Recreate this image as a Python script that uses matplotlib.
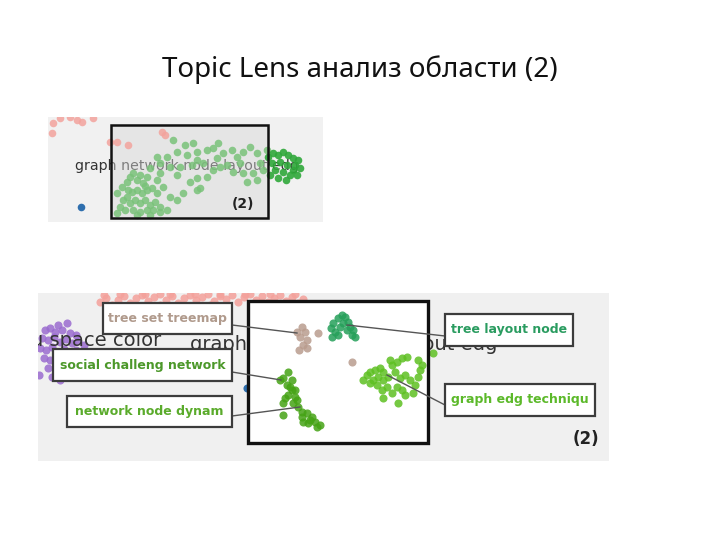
import matplotlib
matplotlib.use("Agg")
import matplotlib.pyplot as plt
from matplotlib.patches import Rectangle

# ---------------- data (pixel-space coordinates) ----------------
title = "Topic Lens анализ области (2)"
topic_phrase = "graph network node layout edg"
panel_tag = "(2)"

# top panel clusters
top_pink_x = [53, 52, 77, 82, 93, 60, 70, 110, 117, 128, 162, 165]
top_pink_y = [123, 133, 120, 122, 118, 118, 117, 142, 142, 145, 132, 135]
top_blue_x = [81]
top_blue_y = [207]
top_light_x = [117, 122, 127, 130, 133, 137, 140, 143, 147, 127, 132, 137, 142, 147, 152, 157,
               130, 135, 140, 145, 150, 155, 160, 133, 140, 147, 153, 160, 167, 120, 125, 157,
               163, 170, 177, 183, 197, 117, 137, 150, 123, 145, 128,
               173, 185, 193, 197, 187, 177, 167, 157, 160, 150, 170, 180, 192, 203, 207, 213,
               218, 223, 232, 237, 243, 250, 257, 260, 263, 253, 243, 233, 227, 220, 213, 207,
               197, 190, 200, 247, 257, 240, 217, 197, 267, 160, 177]
top_light_y = [193, 187, 182, 177, 173, 180, 175, 183, 177, 197, 192, 190, 193, 190, 188, 193,
               203, 200, 203, 200, 205, 202, 207, 210, 212, 210, 210, 212, 210, 207, 210, 180,
               187, 197, 200, 193, 190, 213, 215, 215, 200, 186, 190,
               140, 145, 143, 152, 155, 152, 157, 157, 163, 168, 167, 167, 165, 163, 150, 148,
               143, 153, 150, 157, 152, 147, 153, 163, 170, 173, 173, 172, 165, 167, 170, 177,
               178, 182, 188, 182, 180, 163, 158, 160, 150, 173, 175]
top_dark_x = [268, 273, 278, 283, 288, 293, 298, 272, 280, 287, 295, 300, 275, 283, 290, 278,
              286, 293, 270, 297]
top_dark_y = [157, 153, 155, 152, 155, 158, 160, 163, 162, 165, 165, 168, 170, 172, 175, 178,
              180, 170, 175, 175]

# bottom panel clusters
bot_pink_x = [100, 106, 112, 104, 118, 124, 130, 136, 142, 148, 154, 160, 166, 172, 178, 184,
              190, 196, 202, 208, 214, 220, 226, 232, 238, 244, 250, 256, 262, 268, 274, 280,
              286, 292, 298, 303, 120, 145, 170, 195, 220, 245, 270, 295, 110, 160, 210, 260]
bot_pink_y = [302, 298, 305, 295, 300, 296, 303, 298, 295, 301, 297, 294, 300, 296, 303, 298,
              295, 300, 297, 294, 301, 296, 299, 295, 302, 297, 294, 300, 296, 302, 298, 295,
              301, 297, 303, 299, 294, 294, 294, 294, 294, 294, 294, 294, 306, 305, 305, 305]
bot_purple_x = [58, 67, 45, 50, 55, 62, 70, 76, 42, 48, 54, 60, 66, 72, 78, 84, 40, 46, 52, 58,
                64, 70, 76, 82, 44, 50, 56, 62, 68, 74, 80, 48, 56, 64, 72, 39, 86, 60, 52]
bot_purple_y = [325, 323, 330, 328, 332, 330, 333, 335, 338, 340, 337, 342, 339, 343, 341, 345,
                348, 350, 347, 352, 349, 353, 350, 355, 358, 360, 357, 362, 359, 363, 365, 368,
                370, 372, 374, 375, 352, 380, 377]
bot_blue_x = [247]
bot_blue_y = [388]
bot_brown_x = [297, 302, 305, 300, 307, 303, 307, 318, 352, 299]
bot_brown_y = [332, 327, 332, 337, 340, 345, 348, 333, 362, 350]
bot_teal_x = [333, 338, 342, 345, 348, 350, 353, 352, 347, 340, 335, 332, 343, 355, 338, 331]
bot_teal_y = [323, 318, 315, 317, 322, 327, 330, 335, 330, 327, 332, 337, 323, 337, 335, 328]
bot_dark_x = [288, 283, 292, 280, 287, 292, 288, 295, 283, 293, 298, 283, 302, 302, 307, 312,
              315, 320, 308, 303, 317, 290, 295, 285, 297, 310]
bot_dark_y = [372, 378, 380, 380, 385, 390, 395, 397, 403, 403, 407, 415, 412, 417, 413, 417,
              422, 425, 423, 422, 427, 387, 390, 398, 400, 420]
bot_light_x = [363, 367, 370, 375, 380, 383, 378, 373, 370, 377, 383, 388, 392, 397, 402, 407,
               390, 395, 400, 405, 410, 415, 418, 420, 418, 422, 397, 402, 405, 398, 383, 392,
               413, 387, 382, 433]
bot_light_y = [380, 375, 372, 370, 368, 372, 377, 380, 383, 385, 380, 377, 365, 362, 358, 357,
               360, 372, 378, 375, 380, 385, 377, 370, 360, 365, 387, 390, 395, 403, 398, 393,
               393, 387, 390, 353]

label_texts = ["tree set treemap", "social challeng network", "network node dynam",
               "tree layout node", "graph edg techniqu"]

# ---------------- drawing ----------------
W, H = 720, 540
fig = plt.figure(figsize=(7.2, 5.4), dpi=100)
fig.patch.set_facecolor("white")


def panel_axes(x0, y0, x1, y1, bg):
    ax = fig.add_axes([x0 / W, 1 - y1 / H, (x1 - x0) / W, (y1 - y0) / H])
    ax.set_xlim(x0, x1)
    ax.set_ylim(y1, y0)
    ax.axis("off")
    ax.add_patch(Rectangle((x0, y0), x1 - x0, y1 - y0, facecolor=bg, edgecolor="none", zorder=0))
    return ax


fig.text(0.5, 1 - 70 / H, title, ha="center", va="center", fontsize=20,
         family=["Noto Sans", "DejaVu Sans"], color="#111111")

# ---- top panel ----
a1 = panel_axes(48, 117, 323, 222, "#f1f1f1")
a1.text(75, 166, topic_phrase, fontsize=10.2, color="#333333", va="center", ha="left", zorder=1)
a1.add_patch(Rectangle((111, 125), 157, 93, facecolor="#d8d8d8", alpha=0.45, edgecolor="none", zorder=2))
s1 = 30
a1.scatter(top_pink_x, top_pink_y, s=s1, color="#f3a39d", alpha=0.85, lw=0, zorder=3)
a1.scatter(top_blue_x, top_blue_y, s=s1, color="#2f6fae", lw=0, zorder=3)
a1.scatter(top_light_x, top_light_y, s=s1, color="#79c279", alpha=0.85, lw=0, zorder=3)
a1.scatter(top_dark_x, top_dark_y, s=s1, color="#2fa83a", alpha=0.9, lw=0, zorder=3)
a1.add_patch(Rectangle((111, 125), 157, 93, facecolor="none", edgecolor="#111111", lw=1.8, zorder=4))
a1.text(243, 204, panel_tag, fontsize=10, fontweight="bold", color="#222222", ha="center", va="center", zorder=5)

# ---- bottom panel ----
a2 = panel_axes(38, 293, 609, 461, "#f0f0f0")
s2 = 34
a2.scatter(bot_pink_x, bot_pink_y, s=s2, color="#f4a19b", alpha=0.85, lw=0, zorder=1)
a2.scatter(bot_purple_x, bot_purple_y, s=s2, color="#9a6bcf", alpha=0.85, lw=0, zorder=1)
a2.scatter(bot_blue_x, bot_blue_y, s=s2, color="#2f6fae", lw=0, zorder=1)
a2.text(31, 340, "u space color", fontsize=14, color="#333333", va="center", ha="left", zorder=2, clip_on=True)
a2.text(190, 344, topic_phrase, fontsize=14, color="#333333", va="center", ha="left", zorder=2)
# white lens box
a2.add_patch(Rectangle((248, 301), 180, 142, facecolor="white", edgecolor="none", zorder=3))
a2.scatter(bot_light_x, bot_light_y, s=s2, color="#5ec022", alpha=0.85, lw=0, zorder=4)
a2.scatter(bot_dark_x, bot_dark_y, s=s2, color="#45a315", alpha=0.85, lw=0, zorder=4)
a2.scatter(bot_teal_x, bot_teal_y, s=s2, color="#26a05a", alpha=0.85, lw=0, zorder=4)
a2.scatter(bot_brown_x, bot_brown_y, s=s2, color="#b99c8e", alpha=0.85, lw=0, zorder=4)
a2.add_patch(Rectangle((248, 301), 180, 142, facecolor="none", edgecolor="#111111", lw=2.4, zorder=5))

# label boxes: (x0, y0, x1, y1), text colour, leader line end points
boxes = [
    ((103, 303, 232, 334), "#b09a8c", (232, 325), (297, 333)),
    ((53, 349, 232, 381), "#4c982a", (232, 372), (281, 380)),
    ((67, 396, 232, 427), "#5aab2b", (232, 416), (300, 407)),
    ((445, 314, 573, 346), "#2a9c60", (445, 336), (347, 325)),
    ((445, 384, 595, 416), "#5cb92a", (445, 405), (387, 375)),
]
for (b, col, p0, p1), txt in zip(boxes, label_texts):
    a2.plot([p0[0], p1[0]], [p0[1], p1[1]], color="#555555", lw=1.0, zorder=6)
    x0, y0, x1, y1 = b
    a2.add_patch(Rectangle((x0, y0), x1 - x0, y1 - y0, facecolor="white", edgecolor="#3c3c3c",
                           lw=1.6, zorder=7))
    a2.text((x0 + x1) / 2, (y0 + y1) / 2, txt, fontsize=9, fontweight="bold", color=col,
            ha="center", va="center", zorder=8)

a2.text(586, 439, panel_tag, fontsize=12, fontweight="bold", color="#222222", ha="center", va="center", zorder=8)

fig.savefig("out.png", dpi=100, facecolor="white")
